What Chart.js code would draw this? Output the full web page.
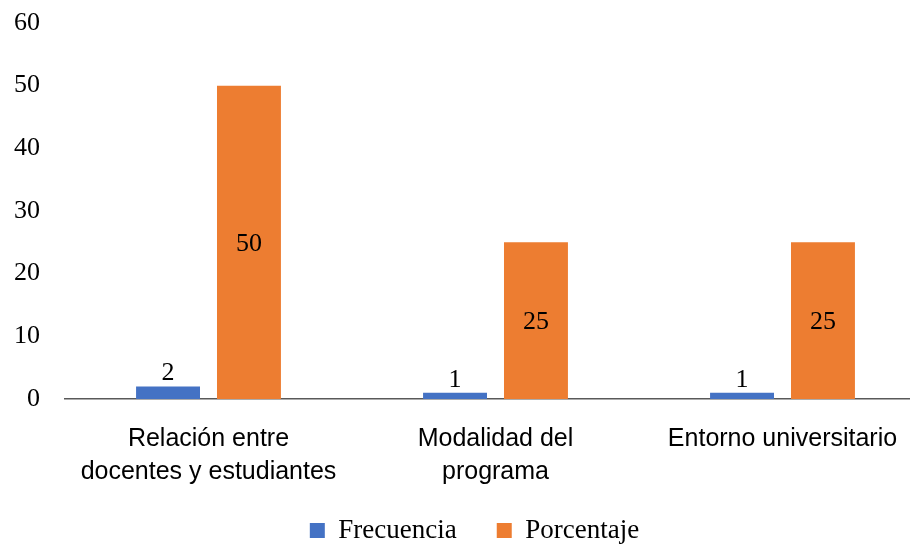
<!DOCTYPE html>
<html>
<head>
<meta charset="utf-8">
<script src="https://cdn.jsdelivr.net/npm/chart.js@4.4.0/dist/chart.umd.min.js"></script>
<style>
	body { margin: 0; background: #fff; overflow: hidden; }
	#wrap { width: 910px; height: 547px; overflow: hidden; }
</style>
</head>
<body>
<div id="wrap"><canvas id="grafico" width="926" height="547"></canvas></div>
<script>
const categorias = [
	['Relación entre', 'docentes y estudiantes'],
	['Modalidad del', 'programa'],
	'Entorno universitario'
];
const frecuencia = [2, 1, 1];
const porcentaje = [50, 25, 25];
const ticksY = [0, 10, 20, 30, 40, 50, 60];

const serif = '"Liberation Serif", "Times New Roman", serif';
const sans = '"Liberation Sans", Arial, sans-serif';

// etiquetas de valor: frecuencia encima de la barra, porcentaje en el centro
const etiquetas = {
	id: 'etiquetas',
	afterLayout(chart) {
		// leyenda un poco mas arriba y a la derecha, como en el original
		const l = chart.legend;
		l.top -= 36; l.bottom -= 36;
		l.left += 9; l.right += 9;
	},
	afterDatasetsDraw(chart) {
		const ctx = chart.ctx;
		chart.data.datasets.forEach((ds, i) => {
			const meta = chart.getDatasetMeta(i);
			meta.data.forEach((bar, j) => {
				ctx.save();
				ctx.font = '26px ' + serif;
				ctx.fillStyle = '#000';
				ctx.textAlign = 'center';
				if (i === 0) {
					ctx.textBaseline = 'alphabetic';
					ctx.fillText(ds.data[j], bar.x, bar.y - 6);
				} else {
					ctx.textBaseline = 'middle';
					ctx.fillText(ds.data[j], bar.x, (bar.y + bar.base) / 2 + 2);
				}
				ctx.restore();
			});
		});
	}
};

const config = {
	type: 'bar',
	data: {
		labels: categorias,
		datasets: [{
			label: 'Frecuencia',
			data: frecuencia,
			backgroundColor: '#4472C4',
			barPercentage: 0.79,
			categoryPercentage: 0.564
		}, {
			label: 'Porcentaje',
			data: porcentaje,
			backgroundColor: '#ED7D31',
			barPercentage: 0.79,
			categoryPercentage: 0.564
		}]
	},
	options: {
		responsive: false,
		animation: false,
		layout: {
			padding: { left: 5, top: 23, right: 0, bottom: -43 }
		},
		plugins: {
			tooltip: { enabled: false },
			legend: {
				position: 'bottom',
				labels: {
					boxWidth: 15,
					boxHeight: 15,
					padding: 40,
					color: '#000',
					font: { family: serif, size: 27 }
				}
			}
		},
		scales: {
			x: {
				grid: { display: false, drawTicks: false },
				border: { color: '#595959', width: 1.5 },
				afterFit(scale) {
					scale.paddingLeft = 0;
					scale.paddingRight = 0;
				},
				ticks: {
					color: '#000',
					padding: 24,
					maxRotation: 0,
					autoSkip: false,
					font: { family: sans, size: 25, lineHeight: 1.32 }
				}
			},
			y: {
				min: 0,
				max: 60,
				grid: { display: false, drawTicks: false },
				border: { display: false },
				afterBuildTicks(scale) {
					scale.ticks = ticksY.map(v => ({ value: v }));
				},
				afterFit(scale) {
					scale.width = 60;
					scale.paddingTop = 0;
					scale.paddingBottom = 0;
				},
				ticks: {
					color: '#000',
					padding: 25,
					font: { family: serif, size: 26 }
				}
			}
		}
	},
	plugins: [etiquetas]
};

var grafico = new Chart(document.getElementById('grafico'), config);
</script>
</body>
</html>
